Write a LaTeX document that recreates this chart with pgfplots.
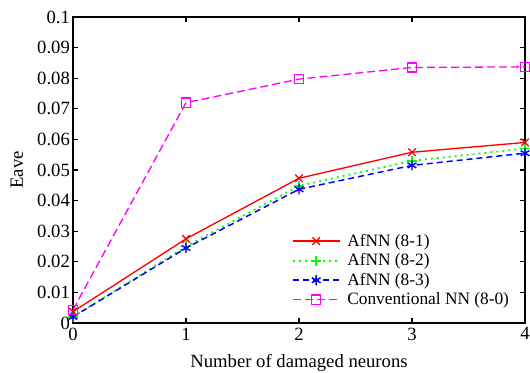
\documentclass[border=0pt]{standalone}
\usepackage{pgfplots}
\pgfplotsset{compat=1.18}
\usepackage{fontspec}
\setmainfont{Liberation Serif}
\definecolor{mgreen}{rgb}{0,1,0}
\definecolor{mmag}{rgb}{1,0,1}
\begin{document}
\begin{tikzpicture}
\begin{axis}[
  scale only axis,
  width=339pt, height=229.5pt,
  xmin=0, xmax=4, ymin=0, ymax=0.1,
  xtick={0,1,2,3,4},
  ytick={0,0.01,0.02,0.03,0.04,0.05,0.06,0.07,0.08,0.09,0.1},
  yticklabels={0,0.01,0.02,0.03,0.04,0.05,0.06,0.07,0.08,0.09,0.1},
  scaled y ticks=false,
  /pgf/number format/assume math mode=true,
  tick label style={font=\fontsize{14}{16}\selectfont},
  yticklabel style={xshift=1.2pt},
  label style={font=\fontsize{14}{16}\selectfont},
  xlabel={Number of damaged neurons},
  ylabel={Eave},
  xlabel style={at={(axis description cs:0.5,-0.1307)}, anchor=center},
  ylabel style={at={(axis description cs:-0.124,0.5)}, anchor=center},
  axis line style={line width=1pt},
  major tick length=4pt,
  tick style={line width=0.8pt, black},
  legend style={at={(0.98,0.035)}, anchor=south east, draw=none, fill=none,
    font=\fontsize{13}{15}\selectfont, row sep=0pt,
    /tikz/every odd column/.append style={column sep=3pt}},
  legend cell align=left,
  legend image code/.code={\draw[mark repeat=2,mark phase=2] plot coordinates {(0cm,0cm)(0.62cm,0cm)(1.24cm,0cm)};},
]
\addplot[red, solid, mark=x, mark size=4pt, line width=1pt] coordinates {(0,0.0037)(1,0.0275)(2,0.0473)(3,0.0558)(4,0.059)};
\addlegendentry{AfNN (8-1)}
\addplot[mgreen, dash pattern=on 1.5pt off 3pt, mark=+, mark size=3.8pt, mark options={solid}, line width=1.3pt] coordinates {(0,0.002)(1,0.025)(2,0.0448)(3,0.053)(4,0.057)};
\addlegendentry{AfNN (8-2)}
\addplot[blue, dash pattern=on 4.5pt off 3pt, mark=asterisk, mark size=3.8pt, mark options={solid}, line width=1.1pt] coordinates {(0,0.002)(1,0.0245)(2,0.0437)(3,0.0515)(4,0.0555)};
\addlegendentry{AfNN (8-3)}
\addplot[mmag, dash pattern=on 6pt off 3pt, mark=square, mark size=3.4pt, mark options={solid}, line width=1pt] coordinates {(0,0.0043)(1,0.072)(2,0.0797)(3,0.0835)(4,0.0837)};
\addlegendentry{Conventional NN (8-0)}
\end{axis}
\pgfresetboundingbox
\path[use as bounding box] ([shift={(-54.75pt,12.75pt)}]current axis.north west) rectangle ([shift={(3.75pt,-37.5pt)}]current axis.south east);
\end{tikzpicture}
\end{document}
